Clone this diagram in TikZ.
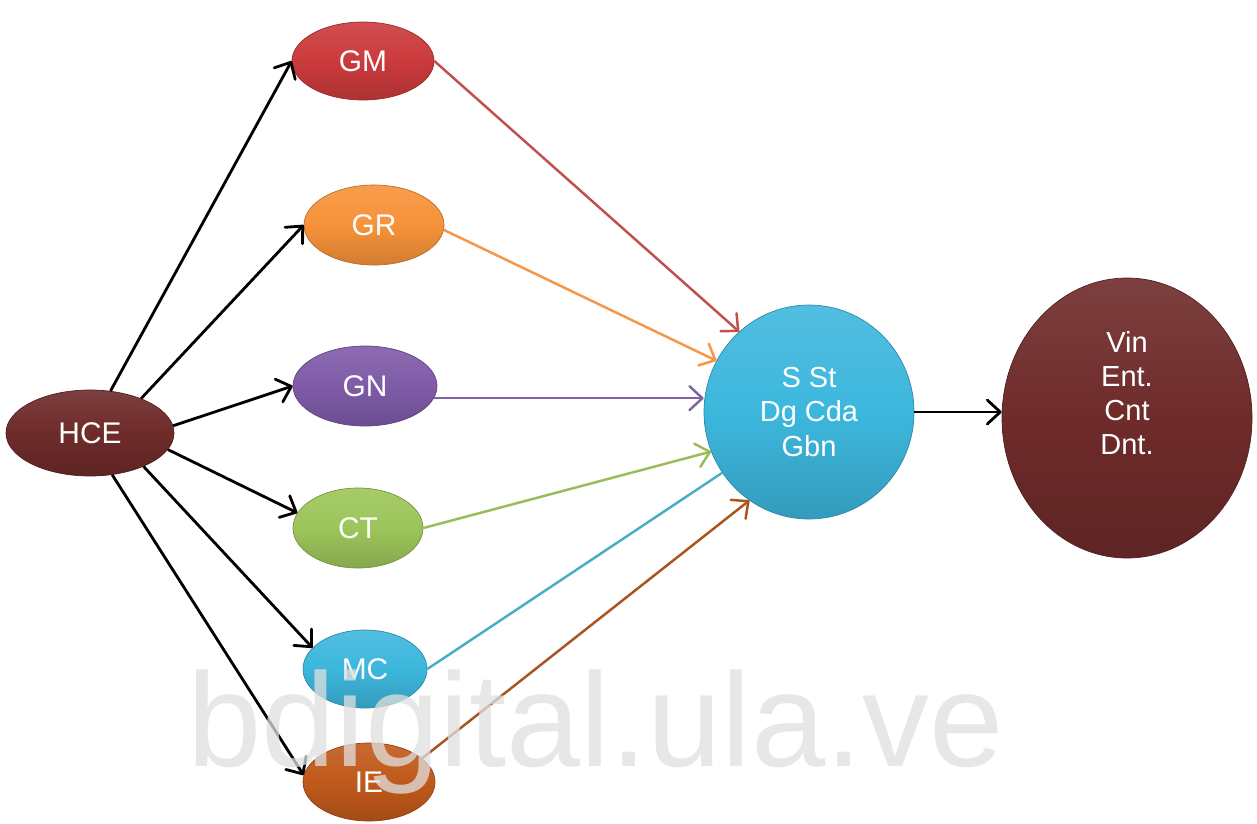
\documentclass[tikz,border=0pt]{standalone}
\usepackage{fontspec}
\setmainfont{Liberation Sans}
\usetikzlibrary{shapes.geometric,arrows.meta}
\newcommand\pxu{0.02cm}
\definecolor{cMaroon}{HTML}{6E2B2A}
\definecolor{cRed}{HTML}{CB3A3C}
\definecolor{cOrange}{HTML}{F7923A}
\definecolor{cPurple}{HTML}{7F5BA8}
\definecolor{cGreen}{HTML}{9CC55A}
\definecolor{cCyan}{HTML}{3DB7DD}
\definecolor{cBrown}{HTML}{C0591B}
\definecolor{lRed}{HTML}{C0504D}
\definecolor{lOrange}{HTML}{F79646}
\definecolor{lPurple}{HTML}{8064A2}
\definecolor{lGreen}{HTML}{9BBB59}
\definecolor{lCyan}{HTML}{4BACC6}
\definecolor{lBrown}{HTML}{A9531E}
\tikzset{
  blob/.style={ellipse, inner sep=0pt, text=white,
    font=\fontsize{17}{20}\selectfont, align=center,
    top color=#1!90!white, bottom color=#1!85!black, middle color=#1,
    draw=#1!75!black, line width=0.4pt},
  words/.style={text=white, align=center, inner sep=0pt,
    font=\fontsize{16.5}{19.5}\selectfont},
  tip/.style={-{Straight Barb[length=2.6mm,width=4.8mm,line cap=round,line join=round]}},
  feed/.style={tip, line width=1.6pt, black},
  link/.style={line width=1.4pt, draw=#1},
}
\begin{document}
\begin{tikzpicture}[x=\pxu, y=-\pxu]
\useasboundingbox (0,0) rectangle (1257,823);
\fill[white] (0,0) rectangle (1257,823);

% nodes
\node[blob=cMaroon, minimum width=168*\pxu, minimum height=86*\pxu] (hce) at (90,433) {HCE};
\node[blob=cRed,    minimum width=142*\pxu, minimum height=78*\pxu] (gm)  at (363,61)  {GM};
\node[blob=cOrange, minimum width=140*\pxu, minimum height=80*\pxu] (gr)  at (374,225) {GR};
\node[blob=cPurple, minimum width=144*\pxu, minimum height=80*\pxu] (gn)  at (365,386) {GN};
\node[blob=cGreen,  minimum width=130*\pxu, minimum height=80*\pxu] (ct)  at (358,528) {CT};
\node[blob=cCyan,   minimum width=124*\pxu, minimum height=78*\pxu] (mc)  at (365,669) {MC};
\node[blob=cBrown,  minimum width=132*\pxu, minimum height=78*\pxu] (ie)  at (369,782) {IE};
\node[blob=cCyan,   minimum width=210*\pxu, minimum height=214*\pxu,
      font=\fontsize{16.5}{19.5}\selectfont] (sst) at (809,412) {S St\\Dg Cda\\Gbn};
\node[blob=cMaroon, minimum width=250*\pxu, minimum height=280*\pxu] (vin) at (1127,418) {};
\node[words] (vintext) at ([yshift=25*\pxu]vin.center) {Vin\\Ent.\\Cnt\\Dnt.};

% arrows out of HCE
\draw[feed] (hce.64)  -- (gm.west);
\draw[feed] (hce.34)  -- (gr.west);
\draw[feed] (hce.5)   -- (gn.west);
\draw[feed] (hce.-12) -- (ct.166);
\draw[feed] (hce.-32) -- (mc.158);
\draw[feed] (hce.-62) -- (ie.174);

% coloured links into the central circle
\draw[link=lRed, tip]    (gm.east) -- (sst.131);
\draw[link=lOrange, tip] (gr.-4)   -- (sst.151);
\draw[link=lPurple, tip] (gn.-10)  -- (gn.-10 -| sst.west);
\draw[link=lGreen, tip]  (ct.east) -- (sst.202);
\draw[link=lCyan]        (mc.east) -- (sst.215);
\draw[link=lBrown, tip]  (ie.24)   -- (sst.236);

% output arrow
\draw[feed] (sst.east) -- (sst.east -| vin.west);

% watermark
\node[anchor=base west, inner sep=0pt, text=black!12, opacity=0.75,
      font=\fontsize{76}{76}\selectfont] (wm) at (187,766) {bdigital.ula.ve};
\end{tikzpicture}
\end{document}
